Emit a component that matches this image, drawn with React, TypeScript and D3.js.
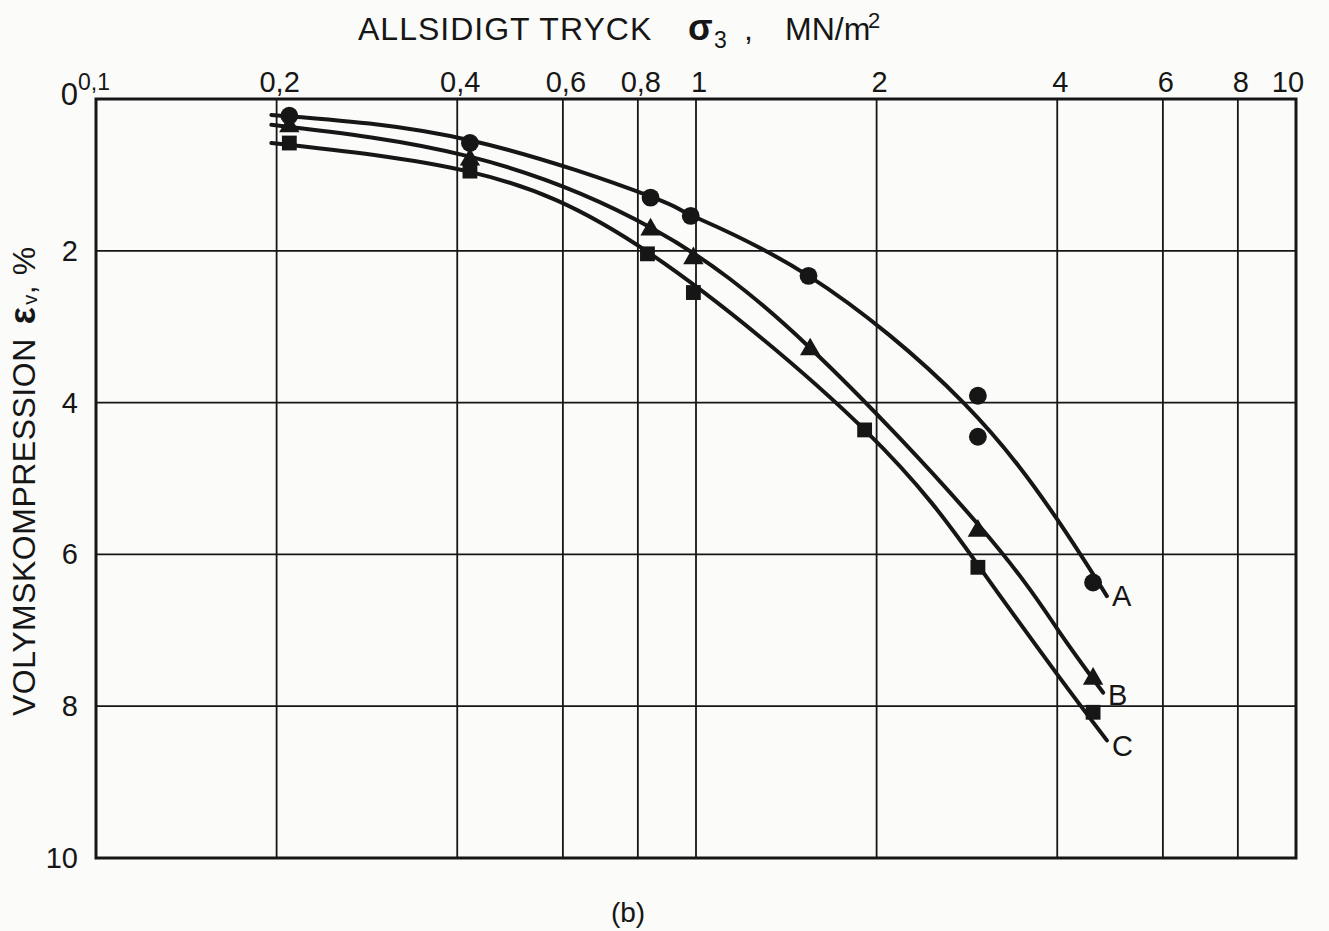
import React from "react";
import * as d3 from "d3";

// Axis ticks
const xGridValues = [0.2, 0.4, 0.6, 0.8, 1, 2, 4, 6, 8];
const xTickValues = [0.1, 0.2, 0.4, 0.6, 0.8, 1, 2, 4, 6, 8, 10];
const yGridValues = [2, 4, 6, 8];
const yTickValues = [0, 2, 4, 6, 8, 10];

// Measured points: all-round pressure σ3 (MN/m²) vs volume compression εv (%)
const sigmaA = [0.21, 0.42, 0.84, 0.98, 1.54, 2.95, 2.95, 4.59];
const epsA = [0.22, 0.58, 1.3, 1.54, 2.33, 3.91, 4.45, 6.37];
const sigmaB = [0.21, 0.42, 0.84, 0.99, 1.55, 2.95, 4.59];
const epsB = [0.34, 0.78, 1.7, 2.08, 3.28, 5.67, 7.62];
const sigmaC = [0.21, 0.42, 0.83, 0.99, 1.91, 2.95, 4.59];
const epsC = [0.58, 0.95, 2.04, 2.55, 4.36, 6.17, 8.08];

// Fitted curves through the measurements
const curveSigmaA = [0.196, 0.423, 0.843, 0.98, 1.54, 2.79, 4.0, 4.84];
const curveEpsA = [0.21, 0.55, 1.29, 1.53, 2.33, 4.0, 5.54, 6.55];
const curveSigmaB = [0.196, 0.42, 0.843, 1.54, 2.97, 4.0, 4.77];
const curveEpsB = [0.34, 0.76, 1.7, 3.26, 5.63, 6.98, 7.82];
const curveSigmaC = [0.196, 0.42, 0.836, 1.91, 2.97, 4.0, 4.84];
const curveEpsC = [0.58, 0.96, 2.03, 4.36, 6.17, 7.58, 8.45];

const seriesNames = ["A", "B", "C"];

const W = 1329;
const H = 931;
const INK = "#161616";
const FONT = "'Liberation Sans', Arial, Helvetica, sans-serif";

const x = d3.scaleLog().domain([0.1, 10]).range([96, 1296]);
const y = d3.scaleLinear().domain([0, 10]).range([99, 858]);

const fmt = (v: number) => String(v).replace(".", ",");

const line = d3
  .line<[number, number]>()
  .x((d) => x(d[0]))
  .y((d) => y(d[1]))
  .curve(d3.curveNatural);

const zip = (a: number[], b: number[]) => a.map((v, i) => [v, b[i]] as [number, number]);

const series = [
  {
    name: seriesNames[0],
    points: zip(sigmaA, epsA),
    curve: zip(curveSigmaA, curveEpsA),
    symbol: d3.symbolCircle,
    size: 250,
    labelDy: 10,
  },
  {
    name: seriesNames[1],
    points: zip(sigmaB, epsB),
    curve: zip(curveSigmaB, curveEpsB),
    symbol: d3.symbolTriangle,
    size: 180,
    labelDy: 12,
  },
  {
    name: seriesNames[2],
    points: zip(sigmaC, epsC),
    curve: zip(curveSigmaC, curveEpsC),
    symbol: d3.symbolSquare,
    size: 220,
    labelDy: 16,
  },
];

export default function App() {
  const [x0, x1] = x.range();
  const [y0, y1] = y.range();
  return (
    <svg
      width={W}
      height={H}
      viewBox={`0 0 ${W} ${H}`}
      style={{ position: "absolute", left: 0, top: 0, background: "#fbfbfa" }}
      fontFamily={FONT}
    >
      <rect x={0} y={0} width={W} height={H} fill="#fbfbfa" />

      {/* grid */}
      {xGridValues.map((v) => (
        <line key={`gx${v}`} x1={x(v)} x2={x(v)} y1={y0} y2={y1} stroke={INK} strokeWidth={1.8} />
      ))}
      {yGridValues.map((v) => (
        <line key={`gy${v}`} x1={x0} x2={x1} y1={y(v)} y2={y(v)} stroke={INK} strokeWidth={1.8} />
      ))}
      <rect x={x0} y={y0} width={x1 - x0} height={y1 - y0} fill="none" stroke={INK} strokeWidth={3} />

      {/* x tick labels (top) */}
      {xTickValues.map((v) => (
        <text
          key={`tx${v}`}
          x={v === 0.1 ? x(v) - 2 : v === 10 ? x(v) - 8 : x(v) + 3}
          y={v === 0.1 ? 90 : 92}
          textAnchor="middle"
          fontSize={v === 0.1 ? 23 : 29}
          fill={INK}
        >
          {fmt(v)}
        </text>
      ))}

      {/* y tick labels */}
      {yTickValues.map((v) => (
        <text
          key={`ty${v}`}
          x={78}
          y={v === 0 ? y(v) + 6 : y(v) + 10}
          textAnchor="end"
          fontSize={v === 0 ? 31 : 29}
          fill={INK}
        >
          {v}
        </text>
      ))}

      {/* top axis title */}
      <text x={358} y={40} fontSize={32} fill={INK} letterSpacing={1}>
        ALLSIDIGT TRYCK
      </text>
      <text x={688} y={40} fontSize={36} fontWeight="bold" fill={INK}>
        σ
      </text>
      <text x={714} y={48} fontSize={23} fill={INK}>
        3
      </text>
      <text x={744} y={40} fontSize={32} fill={INK}>
        ,
      </text>
      <text x={785} y={40} fontSize={32} fill={INK}>
        MN/m
      </text>
      <text x={868} y={28} fontSize={22} fill={INK}>
        2
      </text>

      {/* left axis title */}
      <g transform="translate(35,716) rotate(-90)">
        <text x={0} y={0} fontSize={32} fill={INK} letterSpacing={0.5}>
          VOLYMSKOMPRESSION
          <tspan dx={14} fontWeight="bold" fontSize={36}>
            ε
          </tspan>
          <tspan dx={2} dy={2} fontSize={20}>
            v
          </tspan>
          <tspan dy={-2}>, %</tspan>
        </text>
      </g>

      {/* curves */}
      {series.map((s) => (
        <path key={`c${s.name}`} d={line(s.curve) ?? ""} fill="none" stroke={INK} strokeWidth={4} strokeLinecap="round" />
      ))}

      {/* markers */}
      {series.map((s) =>
        s.points.map((p, i) => (
          <path
            key={`m${s.name}${i}`}
            d={d3.symbol().type(s.symbol).size(s.size)() ?? ""}
            transform={`translate(${x(p[0])},${y(p[1]) + (s.symbol === d3.symbolTriangle ? 1.5 : 0)})`}
            fill={INK}
          />
        ))
      )}

      {/* curve labels */}
      {series.map((s) => {
        const last = s.curve[s.curve.length - 1];
        return (
          <text key={`l${s.name}`} x={x(last[0]) + 5} y={y(last[1]) + s.labelDy} fontSize={29} fill={INK}>
            {s.name}
          </text>
        );
      })}

      <text x={628} y={922} textAnchor="middle" fontSize={28} fill={INK}>
        (b)
      </text>
    </svg>
  );
}
